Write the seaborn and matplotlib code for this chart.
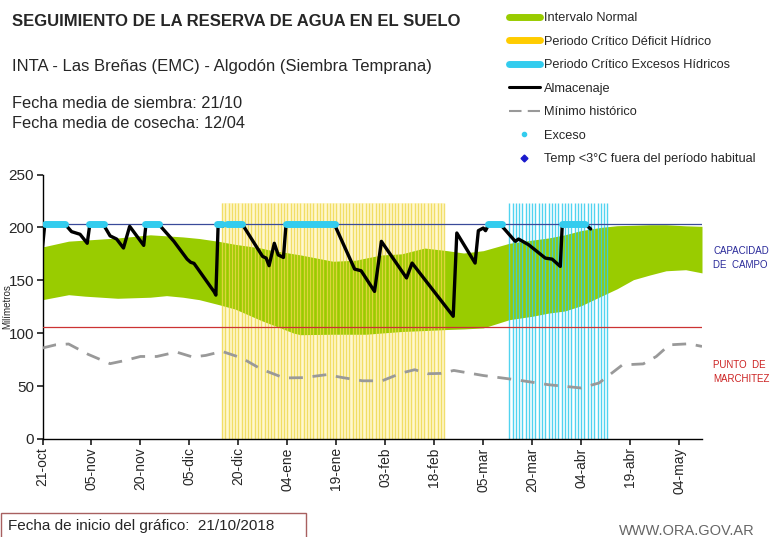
import matplotlib as mpl
from matplotlib import pyplot as plt
from matplotlib.lines import Line2D
from matplotlib.patches import Rectangle
import numpy as np
import pandas as pd
import seaborn as sns

sns.set_theme(style="white")
plt.rcParams['font.family'] = ['Liberation Sans', 'DejaVu Sans']

# Ejes: dias desde el 21-oct
TICK_LABELS = ["21-oct", "05-nov", "20-nov", "05-dic", "20-dic", "04-ene", "19-ene",
               "03-feb", "18-feb", "05-mar", "20-mar", "04-abr", "19-abr", "04-may"]
TICK_STEP = 15
X_MAX = 202

# Capacidad de campo y punto de marchitez [mm]
CAPACIDAD = 203
MARCHITEZ = 105.5

# Intervalo normal (banda verde)
banda_dias = [0, 8, 13, 23, 33, 38, 43, 48, 54, 59, 67, 69, 77, 79, 89, 96, 99, 104, 110,
              117, 124, 129, 135, 143, 150, 155, 160, 165, 171, 176, 181, 186, 191, 197, 202]
banda_sup = [181.5, 187, 188, 190, 193, 192, 191, 189.5, 186.8, 184, 180.5, 179, 175, 174, 168,
             169, 171, 174, 175, 180.5, 178, 175.8, 178, 185, 188, 190, 193, 197, 200, 201.6,
             202, 202.5, 202.5, 201.5, 201]
banda_inf = [131.7, 136.4, 135, 133, 134, 135.5, 134, 131.7, 127, 122.8, 112, 109.6, 100, 98.6,
             99, 99, 99, 100.2, 101.6, 102.5, 103.5, 104, 105, 112.8, 116, 119, 121, 126, 134.8,
             142, 150.6, 155, 159, 160, 157]

# Minimo historico
min_dias = [0, 4, 8, 14, 20.7, 25, 30, 35, 41, 46, 50, 55, 61, 67, 74, 80, 87, 92, 98, 104,
            110, 114, 118, 122, 126, 135, 145, 155, 165, 170.5, 177.6, 184, 188, 192, 198, 202]
min_vals = [86, 89, 89.8, 80, 71.2, 74, 78, 78, 82.2, 77.5, 79, 82.8, 76.6, 66, 57.7, 58, 60.8,
            58, 55, 55, 62.4, 65.5, 61.7, 62, 64.8, 60, 56, 51.3, 48.2, 53, 70, 71, 78, 89, 90, 87.5]

# Almacenaje
alm_dias = [0, 0.7, 6.9, 8.9, 11.5, 13.7, 14.5, 18.6, 20.7, 22.7, 24.8, 26.7, 31, 31.7, 35.6,
            40.2, 44.3, 45.4, 46.4, 52.6, 53.1, 53.8, 55, 56.4, 61.2, 67.4, 68.5, 69.4, 71, 72.2,
            73.8, 74.6, 89.4, 95.6, 97.6, 101.7, 103.8, 111.5, 113.2, 125.8, 126.9, 132.5, 133.5,
            135, 135.7, 136.6, 140.2, 144.8, 145.8, 148.9, 154, 156.1, 158.6, 159.2, 166.3, 167.9]
alm_vals = [181, 203, 203, 196, 193.5, 185, 203, 203, 192, 189, 180.5, 201, 183, 203, 203,
            187, 170, 167, 166, 139, 136, 203, 201, 203, 203, 172.6, 171, 163.8, 185, 174,
            171.6, 203, 203, 160.6, 159, 139.5, 186.8, 152.2, 166.3, 116, 194.7, 166.3, 196.9,
            199.4, 196.9, 202.5, 203, 186.8, 189, 183.6, 171, 170, 163.1, 203, 203, 198.5]

# Exceso (tramos a capacidad de campo)
exceso_ini = [0.7, 14.3, 31.3, 53.6, 56.4, 74.6, 136.4, 159.2]
exceso_fin = [6.9, 18.8, 35.6, 55.0, 61.2, 89.5, 140.7, 166.3]

# Periodos criticos
deficit_ini, deficit_fin = 55, 123
excesos_ini, excesos_fin = 143, 173
PERIODO_TOP = 223

GREEN = '#99cc00'
YELLOW = '#eed84a'
CYAN = '#33ccee'

fig = plt.figure(figsize=(7.8, 5.37), dpi=100)
ax = fig.add_axes([42.5 / 780, 1 - 439 / 537, (702 - 42.5) / 780, (439 - 174.5) / 537])

# Intervalo normal
ax.fill_between(banda_dias, banda_inf, banda_sup, color=GREEN, lw=0, zorder=1)

# Periodos criticos (rayado vertical)
ax.axvspan(deficit_ini, deficit_fin, ymax=PERIODO_TOP / 250, color='#fff8d0', lw=0, zorder=0)
ax.vlines(np.arange(deficit_ini, deficit_fin + 1), 0, PERIODO_TOP, color=YELLOW, lw=1.0,
          alpha=0.8, zorder=2)
ax.vlines(np.arange(excesos_ini, excesos_fin + 1), 0, PERIODO_TOP, color=CYAN, lw=1.0,
          alpha=0.85, zorder=2)

# Lineas de referencia
ax.axhline(CAPACIDAD, color='#3a4a9a', lw=0.9, zorder=3)
ax.axhline(MARCHITEZ, color='#cc3333', lw=0.9, zorder=3)

# Minimo historico
df_min = pd.DataFrame({'dia': min_dias, 'mm': min_vals})
sns.lineplot(data=df_min, x='dia', y='mm', ax=ax, color='#999999', lw=2,
             linestyle=(0, (5, 3.5)), estimator=None, zorder=4)

# Almacenaje
df_alm = pd.DataFrame({'dia': alm_dias, 'mm': alm_vals})
sns.lineplot(data=df_alm, x='dia', y='mm', ax=ax, color='black', lw=2.4,
             estimator=None, zorder=5)

# Exceso
ax.hlines([CAPACIDAD] * len(exceso_ini), exceso_ini, exceso_fin, color=CYAN, lw=5,
          capstyle='round', zorder=6)

# Ejes
ax.set_xlim(0, X_MAX)
ax.set_ylim(0, 250)
ax.set_yticks([0, 50, 100, 150, 200, 250])
ax.set_xticks(np.arange(len(TICK_LABELS)) * TICK_STEP)
ax.set_xticklabels(TICK_LABELS, rotation=90, fontsize=10)
ax.tick_params(axis='y', labelsize=11, length=4, direction='out', left=True, pad=2)
ax.tick_params(axis='x', length=4, direction='out', bottom=True, pad=2)
for side in ['top', 'right']:
    ax.spines[side].set_visible(False)
for side in ['left', 'bottom']:
    ax.spines[side].set_color('black')
    ax.spines[side].set_linewidth(1.0)
ax.set_xlabel('')
ax.set_ylabel('Milímetros', fontsize=7, labelpad=-2)
ax.yaxis.set_label_coords(-0.046, 0.5)
ax.grid(False)

# Textos
fig.text(12 / 780, 1 - 22 / 537, 'SEGUIMIENTO DE LA RESERVA DE AGUA EN EL SUELO',
         fontsize=12, fontweight='bold', va='center')
fig.text(12 / 780, 1 - 67 / 537, 'INTA - Las Breñas (EMC) - Algodón (Siembra Temprana)',
         fontsize=12, va='center')
fig.text(12 / 780, 1 - 104 / 537, 'Fecha media de siembra: 21/10', fontsize=11.8, va='center')
fig.text(12 / 780, 1 - 123 / 537, 'Fecha media de cosecha: 12/04', fontsize=11.8, va='center')

fig.text(713 / 780, 1 - 258 / 537, 'CAPACIDAD\nDE  CAMPO', fontsize=7, color='#2a2a9a',
         va='center', linespacing=1.5)
fig.text(713 / 780, 1 - 372 / 537, 'PUNTO  DE\nMARCHITEZ', fontsize=7, color='#cc2222',
         va='center', linespacing=1.5)

fig.patches.append(Rectangle((1 / 780, -0.02), 305 / 780, (537 - 513) / 537 + 0.02,
                             transform=fig.transFigure, fill=False, ec='#a86060', lw=1))
fig.text(8 / 780, 1 - 526 / 537, 'Fecha de inicio del gráfico:  21/10/2018', fontsize=11,
         va='center')
fig.text(755 / 780, 1 - 531 / 537, 'WWW.ORA.GOV.AR', fontsize=10.5, color='#666666',
         ha='right', va='center')

# Leyenda
handles = [
    Line2D([], [], color=GREEN, lw=5),
    Line2D([], [], color='#ffcc00', lw=5),
    Line2D([], [], color=CYAN, lw=5),
    Line2D([], [], color='black', lw=2.2),
    Line2D([], [], color='#999999', lw=1.5, linestyle=(0, (6, 3))),
    Line2D([], [], color=CYAN, marker='o', markersize=3, lw=0),
    Line2D([], [], color='#1a1acc', marker='D', markersize=3.5, lw=0),
]
labels = ['Intervalo Normal', 'Periodo Crítico Déficit Hídrico', 'Periodo Crítico Excesos Hídricos',
          'Almacenaje', 'Mínimo histórico', 'Exceso', 'Temp <3°C fuera del período habitual']
fig.legend(handles, labels, loc='upper left', bbox_to_anchor=(504 / 780, 1 - 7 / 537),
           frameon=False, fontsize=9.2, handlelength=2.4, handletextpad=0.3,
           labelspacing=0.9, borderaxespad=0)

fig.savefig('out.png', dpi=100)
